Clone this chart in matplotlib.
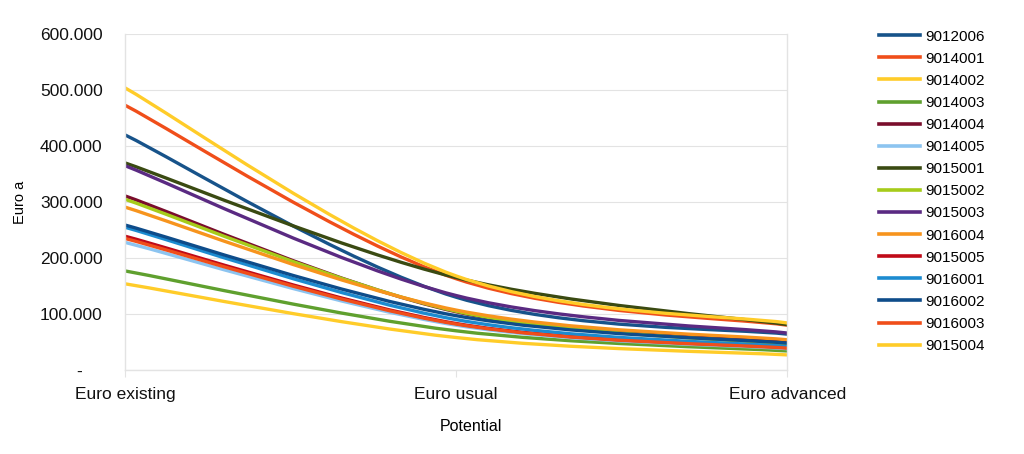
import matplotlib
matplotlib.use("Agg")
import matplotlib.pyplot as plt
from matplotlib.path import Path
from matplotlib.patches import PathPatch
from matplotlib.lines import Line2D
from matplotlib.ticker import FuncFormatter

plt.rcParams['font.family'] = ['Liberation Sans', 'DejaVu Sans']

categories = ['Euro existing', 'Euro usual', 'Euro advanced']

series_names = ['9012006', '9014001', '9014002', '9014003', '9014004',
                '9014005', '9015001', '9015002', '9015003', '9016004',
                '9015005', '9016001', '9016002', '9016003', '9015004']

series_colors = ['#17538A', '#F04E1A', '#FFCC29', '#5FA02E', '#7A0D2C',
                 '#8CC4F0', '#3A4A12', '#A6CC1A', '#5A2A82', '#F7941D',
                 '#C00A18', '#1C8BD0', '#0E4C8A', '#F04E1A', '#FFCC29']

# values in Euro per year: existing, usual, advanced
v_9012006 = [420000, 130000, 64000]
v_9014001 = [473000, 163000, 80000]
v_9014002 = [154000, 58000, 27000]
v_9014003 = [177000, 70000, 34000]
v_9014004 = [311000, 104000, 50000]
v_9014005 = [228000, 80000, 38000]
v_9015001 = [370000, 165000, 81000]
v_9015002 = [305000, 105000, 46000]
v_9015003 = [365000, 133000, 66000]
v_9016004 = [291000, 107000, 54000]
v_9015005 = [239000, 83000, 40000]
v_9016001 = [255000, 90000, 42000]
v_9016002 = [259000, 97000, 48000]
v_9016003 = [235000, 82000, 39000]
v_9015004 = [504000, 168000, 84000]

series_values = [v_9012006, v_9014001, v_9014002, v_9014003, v_9014004,
                 v_9014005, v_9015001, v_9015002, v_9015003, v_9016004,
                 v_9015005, v_9016001, v_9016002, v_9016003, v_9015004]


def smooth_path(ys):
    # Excel-like smoothed line: cubic bezier through the data points
    xs = list(range(len(ys)))
    pts = list(zip(xs, ys))
    verts = [pts[0]]
    codes = [Path.MOVETO]
    n = len(pts)
    for i in range(n - 1):
        p0 = pts[max(i - 1, 0)]
        p1 = pts[i]
        p2 = pts[i + 1]
        p3 = pts[min(i + 2, n - 1)]
        c1 = (p1[0] + (p2[0] - p0[0]) / 6, p1[1] + (p2[1] - p0[1]) / 6)
        c2 = (p2[0] - (p3[0] - p1[0]) / 6, p2[1] - (p3[1] - p1[1]) / 6)
        verts += [c1, c2, p2]
        codes += [Path.CURVE4] * 3
    return Path(verts, codes)


def y_fmt(v, pos):
    if v == 0:
        return '-    '
    return f'{v:,.0f}'.replace(',', '.')


fig = plt.figure(figsize=(10.24, 4.54), dpi=100)
ax = fig.add_axes([0.122, 0.185, 0.647, 0.74])

grid_c = '#E3E3E3'
handles = []
for name, col, vals in zip(series_names, series_colors, series_values):
    patch = PathPatch(smooth_path(vals), fill=False, edgecolor=col, lw=2.4,
                      capstyle='butt', joinstyle='round')
    ax.add_patch(patch)
    handles.append(Line2D([0], [0], color=col, lw=2.6, label=name))

ax.set_xlim(0, len(categories) - 1)
ax.set_ylim(0, 600000)
ax.set_xticks(range(len(categories)))
ax.set_xticklabels(categories, fontsize=12.5)
ax.set_yticks(range(0, 600001, 100000))
ax.yaxis.set_major_formatter(FuncFormatter(y_fmt))
ax.tick_params(axis='y', length=0, labelsize=12.5, pad=16, labelcolor='#111111')
ax.tick_params(axis='x', length=5, color=grid_c, pad=7, labelcolor='#111111')

ax.grid(axis='y', color=grid_c, lw=0.8)
ax.set_axisbelow(True)
ax.spines['top'].set_visible(False)
for s in ['left', 'right', 'bottom']:
    ax.spines[s].set_color(grid_c)
    ax.spines[s].set_linewidth(1.0)

ax.set_xlabel('Potential', fontsize=11.5)
ax.xaxis.set_label_coords(0.523, -0.145)
ax.set_ylabel('Euro a', fontsize=10.5)
ax.yaxis.set_label_coords(-0.148, 0.5)

fig.legend(handles=handles, loc='upper left', bbox_to_anchor=(0.845, 0.965),
           frameon=False, fontsize=11, handlelength=2.7, handletextpad=0.3,
           labelspacing=0.53)

fig.savefig('out.png', dpi=100)
